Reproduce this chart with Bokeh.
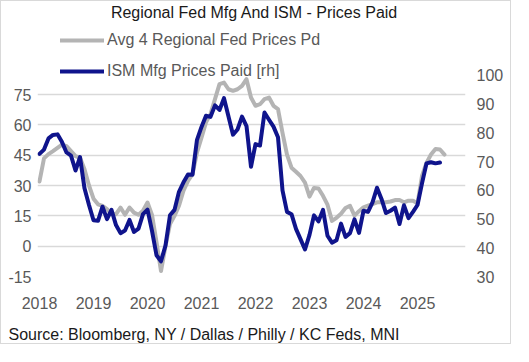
from bokeh.plotting import figure
from bokeh.models import Range1d, LinearAxis, FixedTicker, Legend, LegendItem, Label, Title
from bokeh.embed import file_html
from bokeh.resources import INLINE

FONT = "Liberation Sans"

# ---------------- data ----------------
start_year = 2018
years = [2018, 2019, 2020, 2021, 2022, 2023, 2024, 2025]
left_ticks = [-15, 0, 15, 30, 45, 60, 75]
right_ticks = [30, 40, 50, 60, 70, 80, 90, 100]

# Avg of 4 regional Fed prices paid (left axis), monthly from Jan 2018
regional_fed_prices = [
    32.0, 43.4, 45.5, 47.0, 48.6, 50.2, 49.5, 47.0, 44.5, 43.7, 38.0, 30.0,
    23.5, 20.7, 19.9, 18.3, 16.0, 15.8, 19.1, 15.5, 19.1, 16.6, 15.5, 17.5,
    21.6, 15.5, 2.0, -12.3, 0.0, 10.9, 15.0, 20.0, 27.4, 32.3, 35.6, 46.3,
    53.7, 61.2, 65.3, 72.7, 80.1, 80.9, 77.6, 76.8, 77.6, 79.3, 82.6, 73.5,
    69.4, 70.2, 72.7, 73.5, 69.4, 67.8, 56.0, 45.3, 38.8, 36.8, 34.7, 31.4,
    24.5, 28.8, 28.5, 24.9, 20.5, 12.5, 14.0, 16.0, 18.9, 20.0, 15.1, 17.3,
    19.2, 20.0, 20.8, 21.7, 21.7, 21.7, 22.1, 22.8, 22.8, 21.7, 22.5, 22.5,
    21.2, 34.7, 41.2, 45.3, 48.1, 47.8, 45.3,
]

# ISM manufacturing prices paid (right axis), monthly from Jan 2018
ism_prices_paid = [
    72.7, 74.2, 78.1, 79.3, 79.5, 76.8, 73.2, 72.1, 66.9, 71.6, 60.7, 54.9,
    49.6, 49.4, 54.3, 50.0, 53.2, 47.9, 45.1, 46.0, 49.7, 45.5, 46.7, 51.7,
    53.3, 45.9, 37.4, 35.3, 40.8, 51.3, 53.2, 59.5, 62.8, 65.5, 65.4, 77.6,
    82.1, 86.0, 85.6, 89.6, 88.0, 92.1, 85.7, 79.4, 81.2, 85.7, 82.4, 68.2,
    76.1, 75.6, 87.1, 84.6, 82.2, 78.5, 60.0, 52.5, 51.7, 46.6, 43.0, 39.4,
    44.5, 51.3, 49.2, 53.2, 44.2, 41.8, 42.6, 48.4, 43.8, 45.1, 49.9, 45.2,
    52.9, 52.5, 55.8, 60.9, 57.0, 52.1, 52.9, 54.0, 48.3, 54.8, 50.3, 52.5,
    54.9, 62.4, 69.4, 69.8, 69.4, 69.7,
]

x_fed = [start_year + i / 12 for i in range(len(regional_fed_prices))]
x_ism = [start_year + i / 12 for i in range(len(ism_prices_paid))]

# ---------------- figure ----------------
W, H = 511, 344
p = figure(width=W, height=H, output_backend="svg", toolbar_location=None,
           x_range=Range1d(2017.963, 2025.889), y_range=Range1d(-15, 120.99),
           min_border_left=36, min_border_right=47, min_border_top=0,
           min_border_bottom=69)
p.outline_line_color = None
p.background_fill_color = "white"
p.border_fill_color = "white"
p.styles = {"border": "1px solid #d9d9d9"}

p.extra_y_ranges = {"rh": Range1d(30, 125.77)}

xa = p.below[0]
ya = p.left[0]
ra = LinearAxis(y_range_name="rh")
p.add_layout(ra, "right")

xa.ticker = FixedTicker(ticks=years)
ya.ticker = FixedTicker(ticks=left_ticks)
ra.ticker = FixedTicker(ticks=right_ticks)
ya.major_label_overrides = {t: str(t) for t in left_ticks}

for ax in (xa, ya, ra):
    ax.axis_line_color = None
    ax.major_tick_line_color = None
    ax.minor_tick_line_color = None
    ax.major_tick_out = 0
    ax.major_tick_in = 0
    ax.minor_tick_out = 0
    ax.minor_tick_in = 0
    ax.axis_label = None
    ax.axis_label_standoff = 0
    ax.major_label_text_font = FONT
    ax.major_label_text_font_size = "16px"
    ax.major_label_text_color = "#595959"
xa.major_label_standoff = 20
ya.major_label_standoff = 6
ra.major_label_standoff = 11

p.xgrid.visible = False
p.ygrid.grid_line_color = "#d9d9d9"
p.ygrid.grid_line_width = 1.5

r_fed = p.line(x_fed, regional_fed_prices, line_color="#b4b4b4", line_width=4,
               line_join="round", line_cap="round")
r_ism = p.line(x_ism, ism_prices_paid, y_range_name="rh", line_color="#0f148c",
               line_width=4, line_join="round", line_cap="round")

legend = Legend(items=[LegendItem(label="Avg 4 Regional Fed Prices Pd", renderers=[r_fed]),
                       LegendItem(label="ISM Mfg Prices Paid [rh]", renderers=[r_ism])],
                location=(23, 195), orientation="vertical",
                glyph_width=44, glyph_height=20, label_height=20, label_standoff=3,
                spacing=11, padding=0, margin=0,
                border_line_color=None, background_fill_alpha=0,
                label_text_font=FONT, label_text_font_size="16px",
                label_text_color="#595959")
p.add_layout(legend, "center")

chart_title = Label(x=217, y=264, x_units="screen", y_units="screen",
                    text="Regional Fed Mfg And ISM - Prices Paid",
                    text_align="center", text_baseline="middle",
                    text_font=FONT, text_font_size="16px", text_color="#1a1a1a")
p.add_layout(chart_title)

# small spacer between the axis labels and the source line
spacer = Title(text=" ", standoff=9, text_font_size="1px")
p.add_layout(spacer, "below")

source = Title(text="Source: Bloomberg, NY / Dallas / Philly / KC Feds, MNI",
               align="left", offset=-29, standoff=0, vertical_align="bottom",
               text_font=FONT, text_font_size="16px", text_font_style="normal",
               text_color="#1a1a1a")
p.add_layout(source, "below")

open("out.html", "w").write(file_html(p, INLINE))
